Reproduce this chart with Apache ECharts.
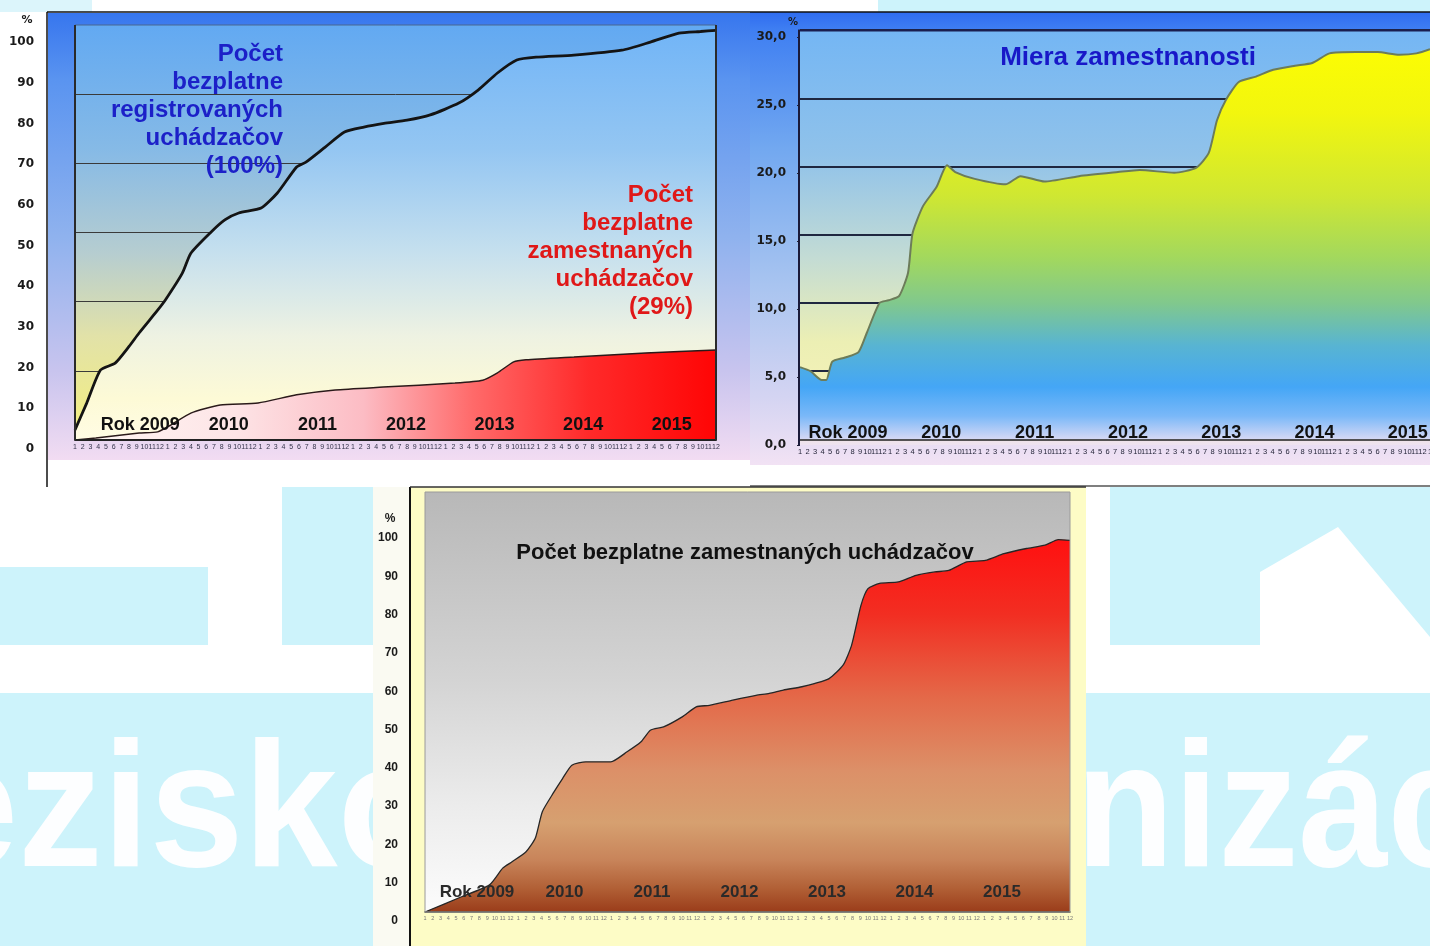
<!DOCTYPE html>
<html><head><meta charset="utf-8">
<script src="https://cdn.jsdelivr.net/npm/echarts/dist/echarts.min.js"></script>
<style>html,body{margin:0;padding:0;background:#fff}#c{width:1430px;height:946px}</style>
</head><body><div id="c"></div><script>
// ---- data ----
const years = ['Rok 2009','2010','2011','2012','2013','2014','2015'];
const monthLabels = ['1','2','3','4','5','6','7','8','9','10','11','12'];
// [month index since Jan 2009, %]
const registered = [[0,2.5],[1.5,9],[3.3,17.2],[5.2,18.9],[7,23],[8.3,26.3],[10.7,31.9],[11.7,34.4],[13.9,41.0],[15,45.9],[17.5,50.9],[19.4,54.1],[21.2,55.8],[24.1,57.0],[26.2,60.7],[28.7,67.1],[29.9,68.3],[32.4,72.0],[34.9,75.7],[37.4,76.9],[40,77.8],[43,78.6],[46,79.9],[49.7,82.8],[52.2,86.0],[54.7,90.2],[57.2,93.4],[59.7,94.1],[64.6,94.6],[70.8,95.8],[74.5,97.8],[78.2,100.0],[81,100.4],[83,100.7]];
const employed = [[0,0],[2.7,0.5],[8.3,1.7],[10.7,2.0],[12.5,3.8],[15,6.6],[18.8,8.6],[23.7,9.1],[28.7,11.1],[33.7,12.3],[39.9,13.0],[49.2,14.0],[52.8,14.7],[54.7,16.5],[56.8,19.2],[58.4,19.7],[64.6,20.4],[73.9,21.4],[83,22.1]];
const employmentRate = [[0,5.3],[1.4,5.0],[2.9,4.35],[3.5,4.35],[4.3,5.7],[6,6.0],[7.8,6.4],[8.9,7.8],[10.6,10.0],[11.8,10.2],[13.2,10.5],[14.4,12.2],[15,15.1],[16.4,17.1],[18.2,18.5],[19.6,20.1],[20.7,19.6],[23.3,19.1],[27.4,18.7],[29.4,19.3],[32.6,18.9],[37.2,19.3],[42.4,19.6],[45.3,19.75],[49.9,19.55],[52.8,19.9],[54.5,21.0],[55.6,23.4],[56.8,24.9],[58.5,26.2],[60.8,26.6],[63.1,27.1],[66,27.4],[68.3,27.6],[70.6,28.3],[74.1,28.4],[77,28.4],[79.9,28.2],[82.2,28.3],[84,28.6]];
const employedShare = [[0,0],[4.7,4.1],[8.3,7.3],[10,11.8],[11.2,13.5],[13,16.2],[14.2,19.9],[15.1,27.0],[16.6,32.3],[17.7,35.9],[18.9,39.5],[20.7,40.4],[23.9,40.4],[26,43.1],[27.8,45.8],[29,48.9],[30.7,49.8],[33.1,52.5],[34.9,55.2],[36.6,55.6],[39.6,57.0],[42.6,58.3],[44.3,58.8],[46.1,59.7],[48.5,60.6],[50.2,61.5],[52,62.8],[53.8,66.4],[54.9,71.8],[56.1,82.5],[57,87.0],[58.5,88.4],[60.9,88.8],[63.2,90.6],[65.6,91.5],[67.4,91.9],[69.7,94.2],[72.1,94.6],[74.5,96.4],[77.4,97.8],[79.8,98.7],[81.5,100.2],[83,100]];
const title1 = ['Počet','bezplatne','registrovaných','uchádzačov','(100%)'];
const title2 = ['Počet','bezplatne','zamestnaných','uchádzačov','(29%)'];
const title3 = 'Miera zamestnanosti';
const title4 = 'Počet bezplatne zamestnaných uchádzačov';

// ---- helpers ----
const F = '"Liberation Sans", Arial, sans-serif';
const G = (x,y,x2,y2,stops)=>({type:'linear',x,y,x2,y2,global:true,colorStops:stops.map(s=>({offset:s[0],color:s[1]}))});
const LG = (stops)=>new echarts.graphic.LinearGradient(0,0,0,1,stops.map(s=>({offset:s[0],color:s[1]})));
const gridBase = {containLabel:false, outerBoundsMode:'none', show:false};
const hiddenX = g=>({type:'value',gridIndex:g,show:false});
const hiddenY = g=>({type:'value',gridIndex:g,show:false});
const monthAxis = (g,max,fs,color,margin,lineColor,lineW,offset)=>({
  type:'value',gridIndex:g,min:0,max:max,interval:1,offset:offset||0,z:5,
  axisLine:{show:true,lineStyle:{color:lineColor,width:lineW}},
  axisTick:{show:false},splitLine:{show:false},
  axisLabel:{show:true,fontSize:fs,color:color,margin:margin,fontFamily:F,formatter:v=>monthLabels[Math.round(v)%12]}
});
const yearAxis = (g,fs,color,margin)=>({
  type:'category',gridIndex:g,data:years,boundaryGap:true,z:6,
  axisLine:{show:false},axisTick:{show:false},splitLine:{show:false},
  axisLabel:{inside:true,interval:0,margin:margin,fontSize:fs,fontWeight:'bold',color:color,fontFamily:F}
});
const labelAxis = (g,max,interval,fs,font,margin,fmt,ticks)=>({
  type:'value',gridIndex:g,min:0,max:max,interval:interval,
  axisLine:{show:false},axisTick:{show:!!ticks,length:3,lineStyle:{color:'#223'}},splitLine:{show:false},
  axisLabel:{show:true,fontSize:fs,fontWeight:'bold',fontFamily:font,color:'#1a1a1a',margin:margin,formatter:fmt}
});

const option = {
  animation:false,
  backgroundColor:'#ffffff',
  grid:[
    Object.assign({left:75,top:25,width:641,height:415},gridBase),      //0 P1 data
    Object.assign({left:47,top:42,width:10,height:407},gridBase),       //1 P1 labels
    Object.assign({left:96,top:25,width:620,height:415},gridBase),      //2 P1 years
    Object.assign({left:800,top:30.2,width:630,height:409.2},gridBase), //3 P2 data
    Object.assign({left:800,top:37,width:10,height:408},gridBase),      //4 P2 labels
    Object.assign({left:801.4,top:30,width:653,height:415},gridBase),   //5 P2 years
    Object.assign({left:425,top:492,width:645,height:420},gridBase),    //6 P3 data
    Object.assign({left:410,top:538,width:10,height:383},gridBase),     //7 P3 labels
    Object.assign({left:433.25,top:492,width:612.5,height:420},gridBase)//8 P3 years
  ],
  xAxis:[
    monthAxis(0,83,7,'#33334a',4,'#222',2),
    hiddenX(1),
    yearAxis(2,18,'#111',6),
    monthAxis(3,84,7.5,'#26263a',3,'#222',1.5,6),
    hiddenX(4),
    yearAxis(5,18,'#111',3),
    monthAxis(6,83,5.5,'#777',3,'#3a3a3a',1.5),
    hiddenX(7),
    yearAxis(8,17,'#2a2a2a',11)
  ],
  yAxis:[
    {type:'value',gridIndex:0,min:0,max:102,interval:17,z:1,axisLine:{show:false},axisTick:{show:false},axisLabel:{show:false},
      splitLine:{show:true,showMinLine:false,showMaxLine:false,lineStyle:{color:'#3a3a3a',width:1}}},
    labelAxis(1,100,10,12,'"DejaVu Sans", Verdana, sans-serif',13),
    hiddenY(2),
    {type:'value',gridIndex:3,min:0,max:30,interval:5,z:1,axisLine:{show:false},axisTick:{show:false},axisLabel:{show:false},
      splitLine:{show:true,showMinLine:false,lineStyle:{color:'#1f2740',width:2}}},
    labelAxis(4,30,5,12,'"DejaVu Sans", Verdana, sans-serif',14,v=>v.toFixed(1).replace('.',','),true),
    hiddenY(5),
    {type:'value',gridIndex:6,min:0,max:113,show:false,splitLine:{show:false}},
    labelAxis(7,100,10,12,F,12),
    hiddenY(8)
  ],
  series:[
    {type:'line',xAxisIndex:0,yAxisIndex:0,data:registered,symbol:'none',smooth:0.2,z:3,silent:true,
      lineStyle:{color:'#141414',width:2.8},
      areaStyle:{opacity:1,color:G(0,25,0,440,[[0,'#70b4f7'],[0.3,'#94c6f2'],[0.55,'#c6e0ee'],[0.75,'#eef2e2'],[0.9,'#fdfad6'],[1,'#fffce4']])}},
    {type:'line',xAxisIndex:0,yAxisIndex:0,data:employed,symbol:'none',smooth:0.2,z:4,silent:true,
      lineStyle:{color:'#2a1a1a',width:1.5},
      areaStyle:{opacity:1,color:G(75,0,716,0,[[0,'#fff8f4'],[0.25,'#fde4e6'],[0.45,'#fcbcc4'],[0.62,'#ff6a6a'],[0.8,'#ff2a2a'],[1,'#ff0505']])}},
    {type:'line',xAxisIndex:3,yAxisIndex:3,data:employmentRate,symbol:'none',smooth:0.2,z:3,silent:true,
      lineStyle:{color:'#6c7c5a',width:2},
      areaStyle:{opacity:1,color:G(0,30,0,445,[[0,'#ffff00'],[0.2,'#f2f60e'],[0.4,'#cfe732'],[0.55,'#a2d85e'],[0.66,'#80c88e'],[0.76,'#58b4d2'],[0.86,'#44a6f6'],[0.93,'#7ab8f8'],[1,'#ece0f4']])}},
    {type:'line',xAxisIndex:6,yAxisIndex:6,data:employedShare,symbol:'none',smooth:0.2,z:3,silent:true,
      lineStyle:{color:'#262626',width:1.3},
      areaStyle:{opacity:1,color:G(0,540,0,912,[[0,'#ff1010'],[0.2,'#f22e22'],[0.42,'#e46848'],[0.62,'#dc9068'],[0.76,'#d6a070'],[0.86,'#c8845a'],[0.94,'#b05e34'],[1,'#9a3c1a']])}}
  ],
  graphic:{elements:[
    // page background shapes
    {type:'rect',z:-5,shape:{x:0,y:487,width:1430,height:459},style:{fill:'#cdf3fb'}},
    {type:'rect',z:-5,shape:{x:0,y:487,width:373,height:206},style:{fill:'#ffffff'}},
    {type:'rect',z:-5,shape:{x:0,y:567,width:208,height:78},style:{fill:'#cdf3fb'}},
    {type:'rect',z:-5,shape:{x:282,y:487,width:91,height:158},style:{fill:'#cdf3fb'}},
    {type:'rect',z:-5,shape:{x:1085,y:487,width:345,height:206},style:{fill:'#ffffff'}},
    {type:'rect',z:-5,shape:{x:1110,y:487,width:150,height:158},style:{fill:'#cdf3fb'}},
    {type:'polygon',z:-5,shape:{points:[[1260,487],[1430,487],[1430,637],[1338,527],[1260,572]]},style:{fill:'#cdf3fb'}},
    {type:'text',z:-5,x:-76,y:817,scaleX:0.95,style:{text:'ezisko',x:0,y:0,verticalAlign:'middle',align:'left',font:'bold 178px '+F,fill:'#fdfeff'}},
    {type:'text',z:-5,x:1076,y:817,scaleX:0.9,style:{text:'nizácie',x:0,y:0,verticalAlign:'middle',align:'left',font:'bold 178px '+F,fill:'#fdfeff'}},
    {type:'rect',z:-5,shape:{x:0,y:0,width:92,height:12},style:{fill:'#dcf5fb'}},
    {type:'rect',z:-5,shape:{x:878,y:0,width:552,height:12},style:{fill:'#cdf3fb'}},
    // panel 1 frame
    {type:'rect',z:-4,shape:{x:48,y:13,width:702,height:447},style:{fill:LG([[0,'#3776ee'],[0.15,'#5a94f0'],[0.5,'#8fb2ee'],[0.8,'#c8c4ee'],[1,'#f2dcf2']])}},
    {type:'rect',z:-3,shape:{x:75,y:25,width:641,height:415},style:{fill:LG([[0,'#62a9f2'],[0.3,'#86bae6'],[0.55,'#b6cdd0'],[0.75,'#e2e2a8'],[1,'#f5f07e']])}},
    // panel 2 frame
    {type:'rect',z:-4,shape:{x:750,y:12,width:680,height:453},style:{fill:LG([[0,'#2f6cf0'],[0.04,'#3f7ff2'],[0.3,'#72a8f0'],[0.6,'#a8c4f0'],[0.85,'#d4d4f2'],[1,'#f2e2f4']])}},
    {type:'rect',z:-3,shape:{x:800,y:31,width:630,height:414},style:{fill:LG([[0,'#74b6f4'],[0.3,'#90c2ea'],[0.55,'#c4dcd4'],[0.75,'#ecefb4'],[0.9,'#f6f2b8'],[1,'#eee2f0']])}},
    // panel 3 frame
    {type:'rect',z:-4,shape:{x:373,y:487,width:37,height:459},style:{fill:'#fafaf2'}},
    {type:'rect',z:-4,shape:{x:410,y:487,width:676,height:459},style:{fill:'#fdfcc6'}},
    {type:'rect',z:-3,shape:{x:425,y:492,width:645,height:420},style:{fill:LG([[0,'#b8b8b8'],[0.45,'#d4d4d4'],[0.75,'#ececec'],[1,'#fcfcfc']])}},
    // borders
    {type:'line',z:20,shape:{x1:47,y1:12,x2:750,y2:12},style:{stroke:'#111',lineWidth:1.5}},
    {type:'line',z:20,shape:{x1:47,y1:12,x2:47,y2:487},style:{stroke:'#111',lineWidth:1.5}},
    {type:'line',z:20,shape:{x1:75,y1:25,x2:716,y2:25},style:{stroke:'#4a6890',lineWidth:1}},
    {type:'line',z:20,shape:{x1:75,y1:25,x2:75,y2:440},style:{stroke:'#2a2a2a',lineWidth:2}},
    {type:'line',z:20,shape:{x1:716,y1:25,x2:716,y2:440},style:{stroke:'#2a2a2a',lineWidth:2}},
    {type:'line',z:20,shape:{x1:750,y1:12,x2:1430,y2:12},style:{stroke:'#111',lineWidth:1.5}},
    {type:'line',z:20,shape:{x1:798,y1:30.5,x2:1430,y2:30.5},style:{stroke:'#1a1e50',lineWidth:2}},
    {type:'line',z:20,shape:{x1:799,y1:30,x2:799,y2:446},style:{stroke:'#1a1a3a',lineWidth:2}},
    {type:'line',z:20,shape:{x1:750,y1:486,x2:1430,y2:486},style:{stroke:'#555',lineWidth:1.5}},
    {type:'line',z:20,shape:{x1:410,y1:487,x2:410,y2:946},style:{stroke:'#111',lineWidth:2}},
    {type:'line',z:20,shape:{x1:410,y1:487,x2:1086,y2:487},style:{stroke:'#333',lineWidth:1.5}},
    {type:'rect',z:20,shape:{x:425,y:492,width:645,height:420},style:{fill:'none',stroke:'#9a9a9a',lineWidth:1}},
    // texts
    {type:'text',z:20,style:{text:'%',x:27,y:20,align:'center',verticalAlign:'middle',font:'bold 11px "DejaVu Sans", sans-serif',fill:'#1a1a1a'}},
    {type:'text',z:20,style:{text:'%',x:793,y:22,align:'center',verticalAlign:'middle',font:'bold 10px "DejaVu Sans", sans-serif',fill:'#1a1a1a'}},
    {type:'text',z:20,style:{text:'%',x:390,y:519,align:'center',verticalAlign:'middle',font:'bold 12px '+F,fill:'#1a1a1a'}},
    {type:'text',z:20,style:{text:title1.join('\n'),x:283,y:40,align:'right',verticalAlign:'top',lineHeight:28,font:'bold 24px '+F,fill:'#1c20c8'}},
    {type:'text',z:20,style:{text:title2.join('\n'),x:693,y:181,align:'right',verticalAlign:'top',lineHeight:28,font:'bold 24px '+F,fill:'#e01818'}},
    {type:'text',z:20,style:{text:title3,x:1128,y:58,align:'center',verticalAlign:'middle',font:'bold 26px '+F,fill:'#1818c8'}},
    {type:'text',z:20,style:{text:title4,x:745,y:553,align:'center',verticalAlign:'middle',font:'bold 22px '+F,fill:'#111'}}
  ]}
};
const chart = echarts.init(document.getElementById('c'),null,{renderer:'canvas'});
chart.setOption(option);
</script></body></html>
